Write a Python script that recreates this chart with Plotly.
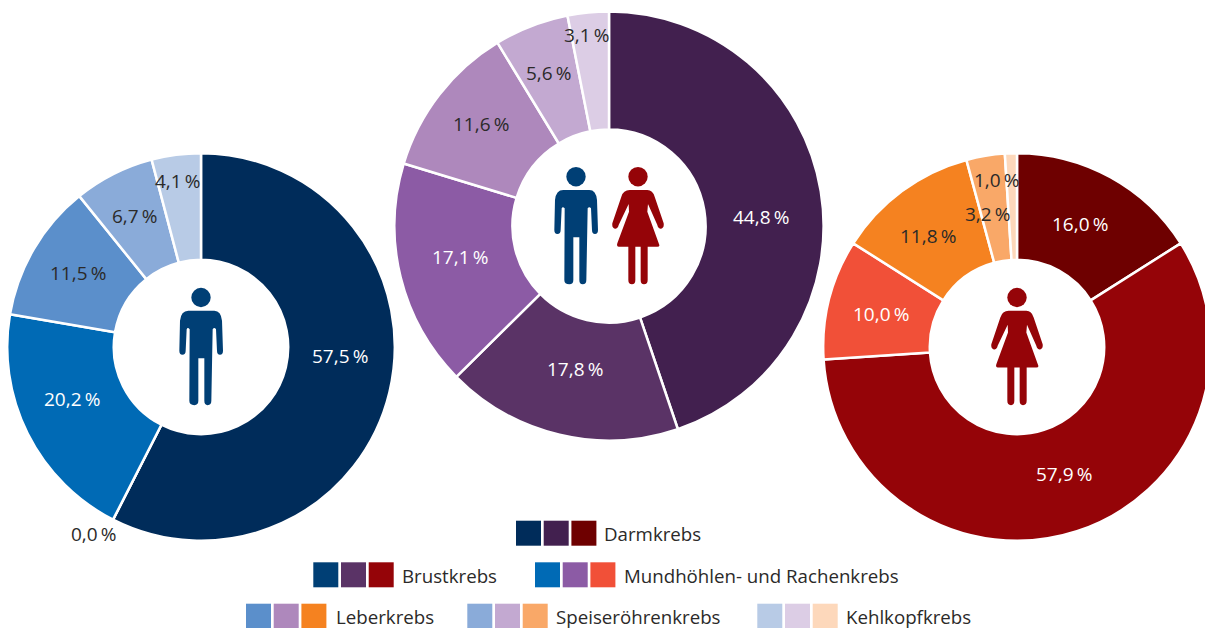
import plotly.graph_objects as go

categories = ["Darmkrebs", "Brustkrebs", "Mundhöhlen- und Rachenkrebs", "Leberkrebs", "Speiseröhrenkrebs", "Kehlkopfkrebs"]
men_values = [57.5, 0.0, 20.2, 11.5, 6.7, 4.1]
all_values = [44.8, 17.8, 17.1, 11.6, 5.6, 3.1]
women_values = [16.0, 57.9, 10.0, 11.8, 3.2, 1.0]
men_colors = ["#002c5a", "#003f75", "#006ab5", "#5b8fcb", "#8aabd9", "#b8cbe6"]
all_colors = ["#42204f", "#5a3366", "#8c5ba5", "#ae88bc", "#c3a9d1", "#dccde5"]
women_colors = ["#6e0000", "#950408", "#f15038", "#f58220", "#f9a868", "#fdd8bb"]

W, H = 1215, 628
DARK = "#2b2a29"
FONT = "Open Sans"
MAN = "#003f75"
WOMAN = "#950408"


def px(x):
    return x / W


def py(y):
    return 1 - y / H


def pie(values, colors, cx, cy, r):
    return go.Pie(
        labels=categories, values=values, sort=False, direction="clockwise", rotation=0,
        hole=0.45, textinfo="none", hoverinfo="label+percent", showlegend=False,
        marker=dict(colors=colors, line=dict(color="white", width=2.5)),
        domain=dict(x=[px(cx - r), px(cx + r)], y=[py(cy + r), py(cy - r)]),
    )


fig = go.Figure([
    pie(men_values, men_colors, 201, 347, 193.8),
    pie(all_values, all_colors, 609, 226, 214.6),
    pie(women_values, women_colors, 1017, 347, 193.8),
])

annotations = []
shapes = []


def text(x, y, s, color=DARK, xanchor="center", size=19):
    annotations.append(dict(x=px(x), y=py(y), xref="paper", yref="paper", text=s, showarrow=False,
                            xanchor=xanchor, yanchor="middle",
                            font=dict(family=FONT, size=size, color=color)))


def fmt(v):
    return f"{v:.1f}".replace(".", ",") + "\u2009%"


men_label_pos = [(340, 356), (94, 534), (72, 399), (78, 273), (135, 216), (178, 181)]
all_label_pos = [(761, 217), (575, 370), (460, 257), (481, 124), (549, 73), (587, 36)]
women_label_pos = [(1080, 224), (1064, 474), (881, 314), (928, 236), (988, 215), (997, 180)]
men_white = [True, False, True, False, False, False]
all_white = [True, True, True, False, False, False]
women_white = [True, True, True, False, False, False]

for vals, pos, whites in [(men_values, men_label_pos, men_white),
                          (all_values, all_label_pos, all_white),
                          (women_values, women_label_pos, women_white)]:
    for v, (x, y), wh in zip(vals, pos, whites):
        text(x, y - 0.5, fmt(v), "white" if wh else DARK)

# Legend
legend_rows = [
    (0, 516, 520.7, 601.5),
    (1, 313.3, 562.3, 400.5),
    (2, 535, 562.3, 621.5),
    (3, 246, 603.7, 333.5),
    (4, 467.3, 603.7, 553.5),
    (5, 757.3, 603.7, 843.5),
]
for idx, x0, y0, tx in legend_rows:
    for k, colors in enumerate((men_colors, all_colors, women_colors)):
        xs = x0 + k * 27.7
        shapes.append(dict(type="rect", xref="paper", yref="paper", x0=px(xs), x1=px(xs + 25),
                           y0=py(y0 + 25), y1=py(y0), fillcolor=colors[idx], line=dict(width=0)))
    text(tx, y0 + 13.2, categories[idx], DARK, "left", 18.7)

# Pictograms: outline drawn relative to the head centre, in 1/3 px units
MAN_BODY = [
    ("M", -38, 40), ("L", 40, 40), ("Q", 60, 40, 63, 70), ("L", 66, 160), ("Q", 66, 172, 57, 172),
    ("Q", 48, 172, 48, 160), ("L", 45, 95), ("Q", 40, 88, 35, 95), ("L", 31, 310),
    ("Q", 31, 323, 20, 323), ("Q", 10, 323, 10, 310), ("L", 10, 182), ("L", -8, 182),
    ("L", -8, 310), ("Q", -8, 323, -20, 323), ("Q", -35, 323, -35, 310), ("L", -34, 95),
    ("Q", -40, 88, -43, 95), ("L", -46, 160), ("Q", -46, 172, -56, 172), ("Q", -65, 172, -65, 160),
    ("L", -63, 70), ("Q", -60, 40, -38, 40), ("Z",),
]
WOMAN_BODY = [
    ("M", -25, 40), ("L", 28, 40), ("Q", 44, 40, 50, 60), ("L", 77, 140), ("Q", 79, 155, 67, 156),
    ("Q", 60, 155, 58, 145), ("L", 30, 82), ("L", 28, 105), ("L", 64, 205), ("Q", 65, 210, 58, 210),
    ("L", 29, 210), ("L", 29, 310), ("Q", 29, 323, 18, 323), ("Q", 8, 323, 8, 310), ("L", 8, 210),
    ("L", -8, 210), ("L", -8, 310), ("Q", -8, 323, -18, 323), ("Q", -29, 323, -29, 310), ("L", -29, 210),
    ("L", -58, 210), ("Q", -65, 210, -62, 200), ("L", -27, 105), ("L", -28, 82), ("L", -58, 145),
    ("Q", -60, 155, -67, 156), ("Q", -79, 155, -77, 140), ("L", -50, 60), ("Q", -44, 40, -25, 40), ("Z",),
]


def icon(body, hx, hy, color):
    parts = []
    for cmd in body:
        parts.append(cmd[0])
        nums = cmd[1:]
        for i in range(0, len(nums), 2):
            parts.append(f"{px(hx + nums[i] / 3):.5f},{py(hy + nums[i + 1] / 3):.5f}")
    shapes.append(dict(type="path", xref="paper", yref="paper", path=" ".join(parts),
                       fillcolor=color, line=dict(width=0), layer="above"))
    r = 9.7
    shapes.append(dict(type="circle", xref="paper", yref="paper", x0=px(hx - r), x1=px(hx + r),
                       y0=py(hy + r), y1=py(hy - r), fillcolor=color, line=dict(width=0), layer="above"))


icon(MAN_BODY, 201, 297.5, MAN)
icon(MAN_BODY, 576, 176.7, MAN)
icon(WOMAN_BODY, 638, 176.7, WOMAN)
icon(WOMAN_BODY, 1017, 297.5, WOMAN)

fig.update_layout(
    width=W, height=H, margin=dict(l=0, r=0, t=0, b=0),
    paper_bgcolor="white", plot_bgcolor="white",
    annotations=annotations, shapes=shapes,
)

fig.write_html(
    "out.html",
    config={"displayModeBar": False},
    post_script="document.body.style.margin='0';document.documentElement.style.overflow='hidden';document.body.style.overflow='hidden';",
)
